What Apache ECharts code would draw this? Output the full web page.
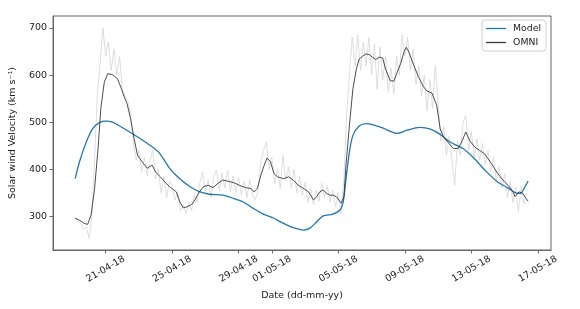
<!DOCTYPE html>
<html><head><meta charset="utf-8">
<script src="https://cdn.jsdelivr.net/npm/echarts@6/dist/echarts.min.js"></script>
<style>html,body{margin:0;padding:0;background:#fff}#c{width:580px;height:309px}</style>
</head><body><div id="c"></div>
<script>
const xTickDates = ['2018-04-21','2018-04-25','2018-04-29','2018-05-01','2018-05-05','2018-05-09','2018-05-13','2018-05-17'];
const yTickValues = [300, 400, 500, 600, 700];

const modelTimes = ['2018-04-19 04:00','2018-04-19 10:00','2018-04-19 20:00','2018-04-20 05:00','2018-04-20 15:00','2018-04-21 00:00','2018-04-21 10:00','2018-04-21 19:00','2018-04-22 14:00','2018-04-23 09:00','2018-04-24 04:00','2018-04-24 21:00','2018-04-25 11:00','2018-04-26 02:00','2018-04-26 16:00','2018-04-27 06:00','2018-04-28 01:00','2018-04-28 15:00','2018-04-29 06:00','2018-04-29 20:00','2018-04-30 10:00','2018-05-01 03:00','2018-05-01 10:00','2018-05-01 17:00','2018-05-02 07:00','2018-05-02 22:00','2018-05-03 07:00','2018-05-03 17:00','2018-05-04 02:00','2018-05-04 16:00','2018-05-05 02:00','2018-05-05 07:00','2018-05-05 11:00','2018-05-05 16:00','2018-05-05 21:00','2018-05-06 06:00','2018-05-06 16:00','2018-05-07 01:00','2018-05-07 16:00','2018-05-07 23:00','2018-05-08 13:00','2018-05-09 03:00','2018-05-09 22:00','2018-05-10 13:00','2018-05-11 03:00','2018-05-11 17:00','2018-05-12 12:00','2018-05-13 02:00','2018-05-13 21:00','2018-05-14 14:00','2018-05-15 04:00','2018-05-15 16:00','2018-05-15 23:00','2018-05-16 04:00','2018-05-16 10:00'];
const modelValues = [380,415,458,486,499,502,500,493,476,458,437,401,380,363,352,347,345,339,331,318,306,296,290,285,276,271,275,289,301,305,313,331,380,437,472,492,497,495,488,483,476,483,489,485,474,458,444,426,396,373,361,350,349,359,375];

const omniTimes = ['2018-04-19 04:00','2018-04-19 10:00','2018-04-19 17:00','2018-04-19 22:00','2018-04-20 03:00','2018-04-20 08:00','2018-04-20 13:00','2018-04-20 17:00','2018-04-20 22:00','2018-04-21 03:00','2018-04-21 05:00','2018-04-21 10:00','2018-04-21 17:00','2018-04-21 22:00','2018-04-22 03:00','2018-04-22 07:00','2018-04-22 12:00','2018-04-22 17:00','2018-04-22 22:00','2018-04-23 05:00','2018-04-23 12:00','2018-04-23 19:00','2018-04-24 00:00','2018-04-24 07:00','2018-04-24 14:00','2018-04-24 21:00','2018-04-25 06:00','2018-04-25 11:00','2018-04-25 16:00','2018-04-25 21:00','2018-04-26 04:00','2018-04-26 09:00','2018-04-26 14:00','2018-04-26 21:00','2018-04-27 04:00','2018-04-27 11:00','2018-04-27 18:00','2018-04-28 01:00','2018-04-28 08:00','2018-04-28 18:00','2018-04-29 01:00','2018-04-29 10:00','2018-04-29 18:00','2018-04-29 22:00','2018-04-30 03:00','2018-04-30 08:00','2018-04-30 13:00','2018-04-30 17:00','2018-04-30 22:00','2018-05-01 03:00','2018-05-01 08:00','2018-05-01 17:00','2018-05-02 00:00','2018-05-02 07:00','2018-05-02 14:00','2018-05-02 22:00','2018-05-03 05:00','2018-05-03 12:00','2018-05-03 17:00','2018-05-03 21:00','2018-05-04 02:00','2018-05-04 07:00','2018-05-04 12:00','2018-05-04 16:00','2018-05-04 21:00','2018-05-05 04:00','2018-05-05 08:00','2018-05-05 11:00','2018-05-05 16:00','2018-05-05 21:00','2018-05-06 02:00','2018-05-06 06:00','2018-05-06 11:00','2018-05-06 16:00','2018-05-06 21:00','2018-05-07 01:00','2018-05-07 06:00','2018-05-07 11:00','2018-05-07 16:00','2018-05-07 20:00','2018-05-08 03:00','2018-05-08 08:00','2018-05-08 13:00','2018-05-08 18:00','2018-05-08 23:00','2018-05-09 02:00','2018-05-09 06:00','2018-05-09 13:00','2018-05-09 20:00','2018-05-10 03:00','2018-05-10 08:00','2018-05-10 15:00','2018-05-10 22:00','2018-05-11 03:00','2018-05-11 08:00','2018-05-11 15:00','2018-05-11 22:00','2018-05-12 05:00','2018-05-12 10:00','2018-05-12 16:00','2018-05-12 22:00','2018-05-13 05:00','2018-05-13 12:00','2018-05-13 19:00','2018-05-14 05:00','2018-05-14 14:00','2018-05-15 00:00','2018-05-15 07:00','2018-05-15 12:00','2018-05-15 15:00','2018-05-15 21:00','2018-05-16 02:00','2018-05-16 07:00','2018-05-16 10:00'];
const omniValues = [296,292,285,283,303,359,444,529,585,603,606,601,592,574,553,539,507,465,430,415,402,409,394,384,372,362,352,331,318,320,325,335,349,363,366,361,370,377,375,371,366,361,359,352,359,387,409,424,416,391,384,380,384,377,366,359,352,335,342,352,356,349,345,345,342,328,342,409,494,571,613,634,640,645,643,638,633,638,636,613,588,587,606,625,650,659,648,620,595,575,566,562,536,486,468,456,444,444,458,479,460,447,440,433,412,391,373,363,352,342,352,349,338,332];

const rawStart = '2018-04-19 04:00';
const rawStepHours = 4;
const rawValues = [298,290,286,272,278,253,300,420,560,625,700,640,670,610,655,600,640,570,555,545,520,455,420,440,395,425,385,418,440,380,400,350,385,340,375,365,335,350,312,325,306,330,312,345,330,372,395,350,378,340,385,398,355,392,360,398,352,385,350,382,345,375,340,378,345,336,352,415,440,458,400,425,370,400,360,430,375,405,360,400,350,385,345,372,330,360,325,355,332,370,340,365,330,355,320,350,305,380,520,600,680,620,685,610,670,620,680,600,665,570,660,590,640,565,615,560,640,600,685,640,680,610,655,580,620,555,600,525,590,530,620,540,460,490,430,470,420,366,460,430,500,514,440,480,425,465,420,455,410,440,395,425,375,405,360,390,340,375,330,362,310,365,325,350];

function toMs(s) {
  const parts = s.split(' ');
  const d = parts[0].split('-').map(Number);
  const t = (parts[1] || '00:00').split(':').map(Number);
  return Date.UTC(d[0], d[1] - 1, d[2], t[0], t[1]);
}
function pad(n) { return (n < 10 ? '0' : '') + n; }
function fmtDate(v) {
  const d = new Date(v);
  return pad(d.getUTCDate()) + '-' + pad(d.getUTCMonth() + 1) + '-' + String(d.getUTCFullYear()).slice(2);
}

const modelData = modelTimes.map((t, i) => [toMs(t), modelValues[i]]);
const omniData = omniTimes.map((t, i) => [toMs(t), omniValues[i]]);
const rawStartMs = toMs(rawStart);
const rawData = rawValues.map((v, i) => [rawStartMs + i * rawStepHours * 3600000, v]);
const xTicks = xTickDates.map(toMs);

const FONT = 'DejaVu Sans';
const TXT = '#222';
const FRAME = '#666';
const chart = echarts.init(document.getElementById('c'), null, { renderer: 'canvas' });
chart.setOption({
  animation: false,
  backgroundColor: '#fff',
  grid: { left: 47, right: 29, top: 16, bottom: 59, show: true, borderColor: FRAME, borderWidth: 1, backgroundColor: 'transparent' },
  legend: {
    data: ['Model', 'OMNI'],
    orient: 'vertical',
    right: 34, top: 20,
    padding: [3, 5, 3, 4],
    icon: 'rect',
    itemGap: 3, itemWidth: 20, itemHeight: 1.3,
    backgroundColor: '#fff',
    borderColor: '#d0d0d0', borderWidth: 1, borderRadius: 3,
    textStyle: { fontFamily: FONT, fontSize: 9.3, color: TXT, lineHeight: 11, padding: [0, 0, 0, 2] }
  },
  xAxis: {
    type: 'value',
    min: toMs('2018-04-17 20:00'),
    max: toMs('2018-05-17 19:00'),
    name: 'Date (dd-mm-yy)',
    nameLocation: 'middle',
    nameGap: 36,
    nameTextStyle: { fontFamily: FONT, fontSize: 9.5, color: TXT },
    axisLine: { show: true, lineStyle: { color: FRAME, width: 1 } },
    axisTick: { show: true, length: 3.5, lineStyle: { color: FRAME }, customValues: xTicks },
    axisLabel: {
      customValues: xTicks,
      rotate: 30, align: 'center', verticalAlign: 'middle', margin: 19,
      formatter: fmtDate,
      fontFamily: FONT, fontSize: 9.5, color: TXT
    },
    splitLine: { show: false }
  },
  yAxis: {
    type: 'value',
    min: 228.6, max: 725.4,
    name: 'Solar wind Velocity (km s⁻¹)',
    nameLocation: 'middle',
    nameGap: 30,
    nameTextStyle: { fontFamily: FONT, fontSize: 9.5, color: TXT },
    axisLine: { show: true, lineStyle: { color: FRAME, width: 1 } },
    axisTick: { show: true, length: 3.5, lineStyle: { color: FRAME }, customValues: yTickValues },
    axisLabel: { customValues: yTickValues, margin: 6, fontFamily: FONT, fontSize: 9.5, color: TXT },
    splitLine: { show: false }
  },
  series: [
    { name: 'raw', type: 'line', data: rawData, symbol: 'none', lineStyle: { color: '#d6d6d6', width: 0.8 }, silent: true, z: 1 },
    { name: 'Model', type: 'line', data: modelData, symbol: 'none', smooth: 0.3, color: '#1f77b4', lineStyle: { color: '#1f77b4', width: 1.3 }, z: 2 },
    { name: 'OMNI', type: 'line', data: omniData, symbol: 'none', color: '#3a3a3a', lineStyle: { color: '#3a3a3a', width: 0.9 }, z: 3 }
  ]
});
</script>
</body></html>
